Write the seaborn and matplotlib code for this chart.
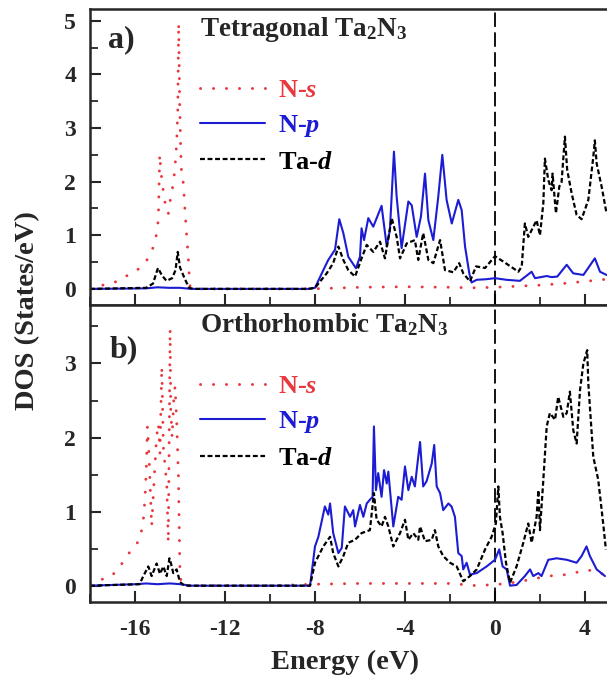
import matplotlib
matplotlib.use('Agg')
import matplotlib.pyplot as plt
import seaborn as sns
from matplotlib.ticker import MultipleLocator

# ---- panel a: tetragonal Ta2N3 ----
e_s_a = [-18.0, -17.3, -16.8, -16.3, -15.85, -15.45, -15.21, -15.08, -15.0, -14.96, -14.93, -14.9,
         -14.87, -14.8, -14.7, -14.6, -14.52, -14.45, -14.4, -14.3, -14.22, -14.15, -14.1, -14.06,
         -14.02, -13.97, -13.93, -13.85, -13.78, -13.7, -13.63, -13.59, -13.55, -13.4, -12, -10,
         -8.2, -6, -4, -2, -1, 0, 1, 2, 3, 4, 4.95]
ns_a = [0.03, 0.08, 0.14, 0.26, 0.37, 0.55, 0.76, 0.94, 1.13, 1.35, 1.94, 2.51, 2.3, 2.0, 1.7,
        1.44, 1.40, 1.6, 1.78, 1.94, 2.28, 2.71, 3.33, 4.96, 3.6, 2.6, 2.15, 1.97, 1.47, 0.97,
        0.57, 0.23, 0.04, 0.0, 0.0, 0.0, 0.0, 0.03, 0.04, 0.03, 0.02, 0.03, 0.05, 0.07, 0.1, 0.14, 0.18]

e_p_a = [-18.0, -15.5, -15.0, -14.5, -14.0, -13.5, -12, -10, -8.3, -8.0, -7.63, -7.41, -7.11,
         -6.92, -6.74, -6.52, -6.18, -6.0, -5.93, -5.82, -5.63, -5.41, -5.04, -4.81, -4.67, -4.49,
         -4.37, -4.15, -3.85, -3.70, -3.48, -3.29, -3.11, -2.96, -2.74, -2.52, -2.34, -2.15, -1.92,
         -1.63, -1.48, -1.33, -1.14, -1.04, -0.81, -0.4, 0, 0.5, 1.11, 1.63, 1.78, 2.3, 2.52, 2.77,
         3.19, 3.48, 3.93, 4.44, 4.67, 4.96]
np_a = [0, 0.01, 0.03, 0.02, 0.02, 0, 0, 0, 0, 0.02, 0.35, 0.54, 0.73, 1.30, 1.04, 0.60, 0.385,
        0.6, 1.13, 0.91, 1.32, 1.16, 1.55, 0.79, 1.10, 2.56, 1.72, 0.76, 1.63, 1.56, 0.97, 1.35,
        2.15, 1.28, 0.91, 1.72, 2.50, 1.66, 1.22, 1.66, 1.47, 0.79, 0.29, 0.12, 0.17, 0.18, 0.20,
        0.17, 0.15, 0.32, 0.20, 0.24, 0.22, 0.23, 0.45, 0.29, 0.26, 0.57, 0.32, 0.26]

e_d_a = [-18.0, -15.5, -15.2, -14.98, -14.8, -14.6, -14.35, -14.2, -14.1, -14.0, -13.8, -13.6,
         -13.4, -12, -10, -8.3, -8.0, -7.48, -7.19, -6.96, -6.74, -6.52, -6.22, -5.93, -5.70,
         -5.41, -5.11, -4.89, -4.59, -4.37, -4.22, -3.92, -3.56, -3.41, -3.19, -2.96, -2.74, -2.44,
         -2.22, -1.85, -1.59, -1.41, -1.11, -0.84, -0.44, 0, 0.37, 1.04, 1.19, 1.33, 1.48, 1.85,
         2.0, 2.15, 2.22, 2.37, 2.52, 2.56, 2.71, 2.86, 2.96, 3.11, 3.21, 3.41, 3.63, 3.85, 4.15,
         4.37, 4.44, 4.52, 4.74, 4.96]
td_a = [0, 0.02, 0.1, 0.39, 0.25, 0.15, 0.2, 0.35, 0.69, 0.4, 0.2, 0.02, 0, 0, 0, 0, 0.02, 0.29,
        0.48, 0.79, 0.54, 0.35, 0.23, 0.57, 0.82, 0.69, 0.88, 0.57, 1.32, 0.97, 0.57, 0.85, 0.91,
        0.54, 1.04, 0.54, 0.48, 0.91, 0.35, 0.31, 0.48, 0.29, 0.14, 0.42, 0.39, 0.61, 0.51, 0.32,
        0.42, 1.22, 0.97, 1.28, 1.0, 1.60, 2.43, 2.03, 1.84, 2.15, 1.41, 1.91, 1.99, 2.84, 2.22,
        1.78, 1.38, 1.30, 1.66, 2.46, 2.77, 2.34, 1.91, 1.41]

# ---- panel b: orthorhombic Ta2N3 ----
e_s_b = [-18.0, -17.04, -16.67, -16.15, -15.78, -15.63, -15.56, -15.5, -15.45, -15.4, -15.33,
         -15.26, -15.19, -15.1, -15.04, -14.96, -14.89, -14.81, -14.74, -14.66, -14.59, -14.52,
         -14.44, -14.41, -14.35, -14.28, -14.22, -14.15, -14.07, -14.0, -13.9, -12, -10, -8, -6,
         -4, -2, -0.8, 0.2, 1, 2.37, 3.19, 4.07, 4.5, 4.95]
ns_b = [0.03, 0.13, 0.26, 0.49, 0.62, 0.89, 1.16, 1.56, 2.15, 1.9, 1.38, 0.80, 1.20, 1.7, 2.01,
        2.19, 1.79, 2.96, 1.88, 1.6, 1.38, 0.58, 3.47, 2.37, 2.0, 2.5, 2.69, 2.24, 1.47, 0.13, 0.0,
        0, 0, 0.02, 0.03, 0.03, 0.03, 0.0, 0.02, 0.05, 0.13, 0.15, 0.21, 0.2, 0.13]

e_p_b = [-18.0, -16.0, -15.5, -15.0, -14.5, -14.4, -14.0, -13.5, -10, -8.22, -8.0, -7.85, -7.56,
         -7.41, -7.33, -7.19, -6.96, -6.81, -6.67, -6.44, -6.30, -6.22, -6.0, -5.85, -5.70, -5.56,
         -5.44, -5.38, -5.29, -5.19, -5.04, -4.93, -4.81, -4.74, -4.52, -4.30, -4.15, -4.0, -3.85,
         -3.70, -3.56, -3.41, -3.33, -3.19, -3.04, -2.81, -2.70, -2.59, -2.44, -2.30, -2.07, -1.93,
         -1.78, -1.63, -1.48, -1.41, -1.26, -1.11, -0.81, -0.37, 0, 0.19, 0.34, 0.52, 0.67, 0.96,
         1.33, 1.56, 1.70, 1.93, 2.07, 2.37, 2.74, 3.19, 3.63, 3.85, 4.07, 4.22, 4.52, 4.89]
np_b = [0, 0.02, 0.03, 0.02, 0.03, 0.03, 0.02, 0, 0, 0, 0.53, 0.66, 1.07, 0.96, 1.11, 0.71, 0.44,
        0.51, 1.07, 0.93, 1.02, 0.80, 1.09, 0.93, 1.11, 1.16, 1.20, 2.15, 1.29, 1.52, 1.20, 1.56,
        1.38, 1.54, 0.80, 1.20, 1.16, 1.61, 1.29, 1.47, 1.34, 1.74, 1.94, 1.34, 1.41, 1.65, 1.90,
        1.34, 1.25, 1.02, 1.11, 1.07, 0.93, 0.44, 0.40, 0.22, 0.31, 0.15, 0.17, 0.26, 0.35, 0.49,
        0.26, 0.22, 0.0, 0.01, 0.13, 0.22, 0.13, 0.17, 0.13, 0.35, 0.37, 0.35, 0.31, 0.40, 0.53,
        0.40, 0.22, 0.13]

e_d_b = [-18.0, -15.8, -15.63, -15.41, -15.26, -15.04, -14.89, -14.74, -14.59, -14.47, -14.4,
         -14.3, -14.15, -14.0, -13.8, -10, -8.22, -8.0, -7.63, -7.33, -7.19, -6.96, -6.74, -6.52,
         -6.22, -5.93, -5.56, -5.38, -5.26, -5.04, -4.89, -4.74, -4.52, -4.22, -4.0, -3.85, -3.63,
         -3.41, -3.33, -3.11, -2.81, -2.67, -2.52, -2.30, -2.0, -1.70, -1.41, -1.11, -0.81, -0.44,
         -0.15, 0.04, 0.15, 0.22, 0.34, 0.49, 0.67, 0.96, 1.26, 1.48, 1.63, 1.85, 1.93, 2.0, 2.15,
         2.30, 2.44, 2.67, 2.81, 3.04, 3.19, 3.33, 3.48, 3.63, 3.78, 3.93, 4.10, 4.15, 4.37, 4.59,
         4.81, 4.93]
td_b = [0, 0.02, 0.13, 0.26, 0.13, 0.30, 0.16, 0.26, 0.13, 0.37, 0.3, 0.17, 0.22, 0.05, 0, 0, 0,
        0.31, 0.53, 0.66, 0.44, 0.26, 0.40, 0.58, 0.62, 0.71, 0.75, 1.25, 0.89, 0.80, 0.93, 0.80,
        0.53, 0.71, 0.89, 0.62, 0.71, 0.62, 0.80, 0.60, 0.62, 0.75, 0.53, 0.40, 0.31, 0.26, 0.06,
        0.13, 0.22, 0.49, 0.66, 0.84, 1.34, 0.93, 0.71, 0.31, 0.04, 0.26, 0.58, 0.84, 0.58, 0.93,
        1.29, 0.75, 1.43, 2.15, 2.33, 2.24, 2.55, 2.28, 2.33, 2.62, 2.10, 1.92, 2.64, 3.0, 3.18,
        2.73, 1.74, 1.43, 0.84, 0.49]

labels = ['N-$s$', 'N-$p$', 'Ta-$d$']
titles = ['Tetragonal Ta$_2$N$_3$', 'Orthorhombic Ta$_2$N$_3$']
tags = ['a)', 'b)']

sns.set_style('ticks')
plt.rcParams['font.family'] = ['Liberation Serif', 'DejaVu Serif']
plt.rcParams['font.weight'] = 'bold'
plt.rcParams['axes.unicode_minus'] = False
plt.rcParams['mathtext.fontset'] = 'custom'
plt.rcParams['mathtext.rm'] = 'Liberation Serif:bold'
plt.rcParams['mathtext.it'] = 'Liberation Serif:italic:bold'
plt.rcParams['mathtext.bf'] = 'Liberation Serif:bold'

red = '#e8383d'
blue = '#1c1cd4'

fig = plt.figure(figsize=(6.07, 6.77), dpi=100)
ax_a = fig.add_axes([0.1483, 0.5495, 0.8517, 0.4372])
ax_b = fig.add_axes([0.1483, 0.1108, 0.8517, 0.4387])


def draw(ax, es, ns, ep, np_, ed, td):
    sns.lineplot(x=es, y=ns, ax=ax, color=red, lw=2.1, linestyle=(0, (0.05, 4.4)),
                 dash_capstyle='round', estimator=None, sort=False, label=labels[0])
    sns.lineplot(x=ep, y=np_, ax=ax, color=blue, lw=1.5, estimator=None, sort=False,
                 label=labels[1])
    sns.lineplot(x=ed, y=td, ax=ax, color='black', lw=1.6, linestyle=(0, (2.2, 1.2)),
                 estimator=None, sort=False, label=labels[2])
    ax.axvline(0, color='black', lw=1.3, linestyle=(0, (8, 3)), zorder=1)


draw(ax_a, e_s_a, ns_a, e_p_a, np_a, e_d_a, td_a)
draw(ax_b, e_s_b, ns_b, e_p_b, np_b, e_d_b, td_b)

ax_a.set_ylim(-0.30, 5.22)
ax_b.set_ylim(-0.22, 3.79)

for i, ax in enumerate([ax_a, ax_b]):
    ax.set_xlim(-18.0, 4.98)
    ax.xaxis.set_major_locator(MultipleLocator(4))
    ax.xaxis.set_minor_locator(MultipleLocator(2))
    ax.yaxis.set_major_locator(MultipleLocator(1))
    ax.yaxis.set_minor_locator(MultipleLocator(0.5))
    ax.tick_params(which='major', direction='in', length=8, width=1.5, labelsize=17, pad=10)
    ax.tick_params(which='minor', direction='in', length=6, width=1.3)
    ax.tick_params(axis='x', which='major', pad=12)
    ax.spines['right'].set_visible(False)
    for s in ['left', 'top', 'bottom']:
        ax.spines[s].set_linewidth(1.8)
    ax.set_xlabel('')
    ax.set_ylabel('')
    ax.legend(loc='upper left', bbox_to_anchor=(0.213, 0.765), frameon=False,
              prop={'family': 'Liberation Serif', 'weight': 'bold', 'size': 19},
              labelcolor='linecolor', handlelength=2.45, handletextpad=0.5,
              labelspacing=0.42, borderpad=0, borderaxespad=0)
    ax.text(0.212, 0.91, titles[i], transform=ax.transAxes, fontsize=19.5,
            fontweight='bold', va='baseline', ha='left')

ax_a.text(0.035, 0.872, tags[0], transform=ax_a.transAxes, fontsize=23, fontweight='bold',
          va='baseline')
ax_b.text(0.038, 0.825, tags[1], transform=ax_b.transAxes, fontsize=23, fontweight='bold',
          va='baseline')

ax_a.tick_params(axis='x', labelbottom=False)

fig.text(0.046, 0.542, 'DOS (States/eV)', rotation=90, fontsize=20.5, fontweight='bold',
         ha='center', va='center')
fig.text(0.568, 0.022, 'Energy (eV)', fontsize=20.5, fontweight='bold', ha='center',
         va='center')

fig.savefig('out.png', dpi=100)
